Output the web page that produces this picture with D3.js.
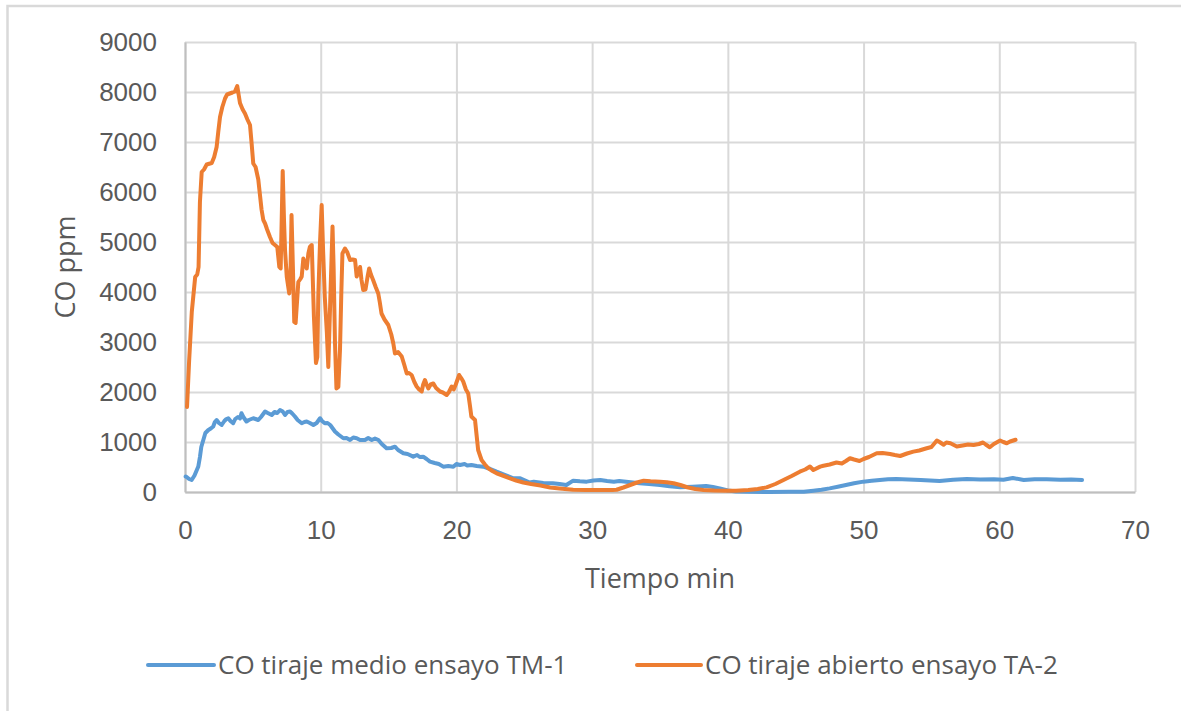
<!DOCTYPE html>
<html>
<head>
<meta charset="utf-8">
<script src="https://cdn.jsdelivr.net/npm/d3@7/dist/d3.min.js"></script>
<style>
  html, body { margin: 0; padding: 0; background: #fff; }
  svg { display: block; font-family: "Open Sans", "Liberation Sans", sans-serif; }
</style>
</head>
<body>
<svg id="chart" width="1181" height="711"></svg>
<script>
// Tick values
const xTicks = [0, 10, 20, 30, 40, 50, 60, 70];
const yTicks = [0, 1000, 2000, 3000, 4000, 5000, 6000, 7000, 8000, 9000];

// Series names
const seriesNames = ["CO tiraje medio ensayo TM-1", "CO tiraje abierto ensayo TA-2"];

// TM-1: time (min) and CO (ppm)
const tM = [0.05,0.12,0.3,0.49,0.7,0.98,1.1,1.2,1.35,1.5,1.72,1.9,2.08,2.2,2.33,2.5,2.7,2.9,3.05,3.19,3.35,3.55,3.7,3.9,4.05,4.16,4.3,4.53,4.7,5.03,5.2,5.4,5.6,5.9,6.1,6.39,6.6,6.8,7.0,7.2,7.37,7.55,7.74,7.9,8.1,8.3,8.6,8.8,8.97,9.2,9.46,9.7,9.95,10.1,10.3,10.5,10.7,11.05,11.3,11.67,11.9,12.16,12.4,12.65,12.9,13.26,13.5,13.76,14.0,14.25,14.5,14.85,15.2,15.47,15.7,16.09,16.4,16.82,17.1,17.3,17.55,17.8,18.05,18.4,18.7,19.03,19.4,19.77,20.0,20.27,20.6,20.8,21.1,21.5,21.98,22.5,22.96,23.6,24.2,24.7,25.4,25.7,26.4,27.1,27.6,28.1,28.6,29.1,29.6,30.1,30.6,31.1,31.6,32.0,32.5,33.0,33.5,34.2,35.0,35.7,36.5,37.4,38.4,38.9,39.4,40.0,40.6,41.5,43.1,44.5,45.6,46.3,46.9,47.5,48.1,48.7,49.3,49.98,50.6,51.2,51.8,52.4,53.3,54.2,54.9,55.6,56.6,57.6,58.6,59.6,60.3,61.0,61.8,62.6,63.5,64.5,65.3,66.1];
const coM = [310,300,260,240,330,510,700,900,1040,1180,1240,1270,1310,1400,1440,1380,1340,1420,1460,1475,1420,1375,1460,1500,1470,1575,1500,1410,1440,1475,1460,1440,1500,1610,1580,1540,1600,1580,1640,1610,1540,1600,1610,1570,1510,1440,1375,1400,1410,1380,1340,1380,1475,1420,1375,1380,1340,1210,1150,1075,1080,1040,1090,1075,1040,1040,1080,1040,1070,1040,960,875,880,907,840,775,760,707,740,700,707,660,607,580,560,507,520,507,560,540,560,530,540,520,507,460,407,340,273,273,190,207,180,173,160,140,227,215,207,230,240,220,207,220,207,190,173,160,140,115,93,105,120,100,73,30,10,5,0,3,7,27,45,73,105,140,175,207,225,240,255,260,250,240,230,220,245,260,250,255,245,280,240,255,253,245,250,240];

// TA-2: time (min) and CO (ppm)
const tA = [0.15,0.3,0.5,0.75,0.9,1.0,1.1,1.23,1.4,1.6,1.97,2.15,2.33,2.45,2.58,2.75,2.95,3.1,3.3,3.5,3.68,3.85,3.95,4.05,4.25,4.42,4.6,4.79,4.9,5.03,5.2,5.4,5.5,5.64,5.77,5.9,6.05,6.26,6.45,6.63,6.8,6.95,7.05,7.2,7.3,7.37,7.5,7.68,7.78,7.85,7.95,8.05,8.15,8.35,8.5,8.6,8.72,8.85,8.97,9.09,9.2,9.34,9.5,9.65,9.75,9.82,9.95,10.07,10.18,10.3,10.45,10.56,10.7,10.87,10.95,11.05,11.16,11.3,11.42,11.52,11.6,11.79,11.95,12.16,12.35,12.53,12.65,12.78,12.9,13.0,13.13,13.3,13.45,13.57,13.7,13.86,14.05,14.24,14.35,14.48,14.7,14.98,15.2,15.35,15.47,15.7,15.97,16.15,16.34,16.5,16.7,16.9,17.07,17.25,17.44,17.55,17.68,17.8,17.93,18.1,18.3,18.5,18.79,19.0,19.28,19.45,19.65,19.8,19.95,20.2,20.35,20.5,20.7,20.87,21.0,21.1,21.37,21.5,21.6,21.85,22.1,22.35,22.65,22.96,23.4,23.95,24.4,24.93,25.5,26.2,26.9,27.6,28.6,29.5,30.5,31.5,31.8,32.3,32.8,33.3,33.8,34.3,35.0,35.5,36.0,36.5,37.0,37.6,38.2,39.0,40.0,40.6,41.5,42.2,42.85,43.5,44.1,44.7,45.3,45.7,46.05,46.3,46.8,47.04,47.5,48.0,48.4,48.7,49.0,49.3,49.7,50.0,50.4,50.97,51.4,51.95,52.3,52.7,53.2,53.67,54.1,54.65,55.0,55.4,55.6,55.9,56.1,56.4,56.87,57.3,57.7,58.1,58.5,58.8,59.0,59.3,59.6,60.06,60.3,60.55,60.8,61.2];
const coA = [1700,2600,3600,4300,4350,4500,5800,6400,6450,6550,6580,6700,6900,7200,7500,7700,7870,7950,7970,7990,8010,8120,7950,7780,7650,7570,7450,7340,7000,6570,6500,6250,6000,5650,5440,5370,5250,5100,4980,4940,4900,4500,4470,6420,5400,4840,4300,3970,4500,5540,4500,3400,3380,4200,4260,4310,4670,4550,4470,4770,4900,4940,3500,2580,2700,3900,5000,5740,4800,3900,3200,2500,3800,5310,4500,3000,2070,2100,2840,4000,4770,4870,4800,4640,4650,4640,4310,4400,4500,4250,4040,4050,4300,4470,4350,4240,4100,3970,3800,3570,3450,3340,3150,2970,2770,2800,2710,2550,2370,2380,2340,2200,2110,2050,2010,2150,2240,2150,2070,2150,2170,2080,2010,1990,1940,2000,2110,2050,2150,2340,2280,2210,2050,1970,1720,1510,1440,1100,840,640,550,473,420,373,330,273,230,190,160,130,90,70,45,40,38,40,45,90,140,190,227,215,207,195,175,140,95,60,40,30,25,27,40,60,93,160,240,320,407,450,510,440,507,525,550,590,570,620,675,650,620,660,700,775,780,760,740,720,770,807,830,875,900,1030,1000,945,990,975,910,930,950,940,960,990,950,895,960,1030,1000,975,1010,1045];

const colors = ["#5B9BD5", "#ED7D31"];
const textColor = "#595959";

const svg = d3.select("#chart");
const margin = { left: 185, right: 46, top: 42, bottom: 219 };
const W = 1181 - margin.left - margin.right;
const H = 711 - margin.top - margin.bottom;

// Outer chart-area frame
svg.append("rect")
  .attr("x", 7.5).attr("y", 6)
  .attr("width", 1200).attr("height", 800)
  .attr("fill", "#fff")
  .attr("stroke", "#D9D9D9").attr("stroke-width", 2.5);

const x = d3.scaleLinear().domain([0, 70]).range([0, W]);
const y = d3.scaleLinear().domain([0, 9000]).range([H, 0]);

const g = svg.append("g").attr("transform", `translate(${margin.left},${margin.top})`);

// Gridlines
g.append("g")
  .call(d3.axisLeft(y).tickValues(yTicks).tickSize(-W).tickFormat(""))
  .call(s => s.select(".domain").remove())
  .call(s => s.selectAll("line").attr("stroke", "#D9D9D9").attr("stroke-width", 2));
g.append("g")
  .attr("transform", `translate(0,${H})`)
  .call(d3.axisBottom(x).tickValues(xTicks).tickSize(-H).tickFormat(""))
  .call(s => s.select(".domain").remove())
  .call(s => s.selectAll("line").attr("stroke", "#D9D9D9").attr("stroke-width", 2));

// Axes
const yAxis = g.append("g")
  .call(d3.axisLeft(y).tickValues(yTicks).tickSize(0).tickPadding(28).tickFormat(d3.format("d")));
const xAxis = g.append("g")
  .attr("transform", `translate(0,${H})`)
  .call(d3.axisBottom(x).tickValues(xTicks).tickSize(0).tickPadding(29).tickFormat(d3.format("d")));
[yAxis, xAxis].forEach(a => {
  a.select(".domain").attr("stroke", "#BFBFBF").attr("stroke-width", 2);
  a.selectAll("text").attr("fill", textColor).style("font-size", "26px").style("font-family", null);
});

// Axis titles
svg.append("text")
  .attr("x", margin.left + W / 2).attr("y", 588)
  .attr("text-anchor", "middle")
  .attr("fill", textColor).style("font-size", "27px")
  .text("Tiempo min");
svg.append("text")
  .attr("transform", `translate(75,${margin.top + H / 2}) rotate(-90)`)
  .attr("text-anchor", "middle")
  .attr("fill", textColor).style("font-size", "27px")
  .text("CO ppm");

// Series lines
const line = d3.line().x(d => x(d[0])).y(d => y(d[1]));
const series = [
  d3.zip(tM, coM),
  d3.zip(tA, coA)
];
series.forEach((pts, i) => {
  g.append("path")
    .datum(pts)
    .attr("fill", "none")
    .attr("stroke", colors[i])
    .attr("stroke-width", 4)
    .attr("stroke-linejoin", "round")
    .attr("stroke-linecap", "round")
    .attr("d", line);
});

// Legend
const legendItems = [
  { x0: 148, x1: 214, tx: 218 },
  { x0: 637, x1: 701, tx: 705 }
];
const legend = svg.append("g");
legendItems.forEach((it, i) => {
  legend.append("line")
    .attr("x1", it.x0).attr("x2", it.x1)
    .attr("y1", 665).attr("y2", 665)
    .attr("stroke", colors[i]).attr("stroke-width", 4)
    .attr("stroke-linecap", "round");
  legend.append("text")
    .attr("x", it.tx).attr("y", 674)
    .attr("fill", textColor).style("font-size", "26px")
    .text(seriesNames[i]);
});
</script>
</body>
</html>
